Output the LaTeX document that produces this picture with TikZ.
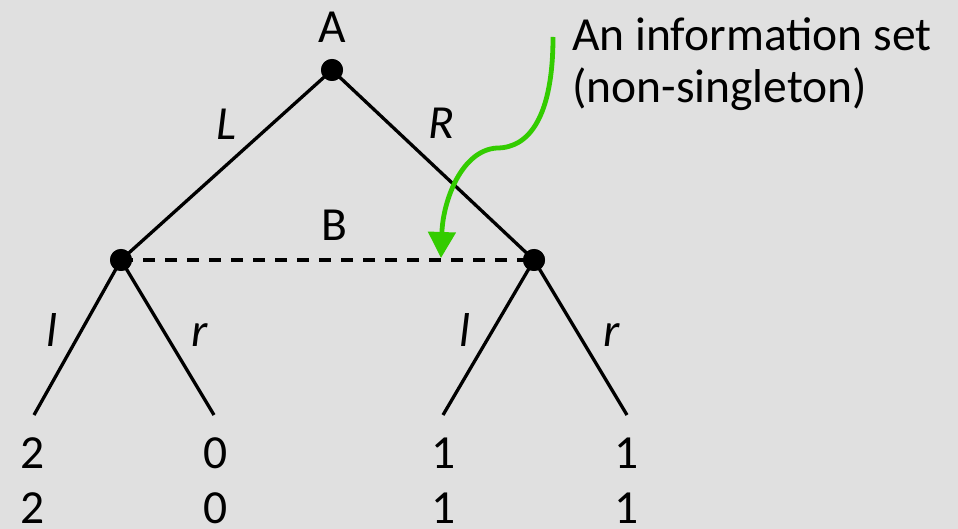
\documentclass[tikz,border=0pt]{standalone}
\usepackage{fontspec}
\setmainfont{Carlito}
\usetikzlibrary{arrows.meta}
\definecolor{bg}{HTML}{E0E0E0}
\definecolor{grn}{HTML}{33CC00}
\begin{document}
\begin{tikzpicture}[x=1pt,y=-1pt,
  dotnode/.style={circle,fill=black,inner sep=0pt,minimum size=22pt},
  edge/.style={line width=3.3pt},
  lbl/.style={font=\fontsize{47.5}{56}\selectfont,anchor=base,inner sep=0pt},
  ilbl/.style={lbl,font=\fontsize{47.5}{56}\selectfont\itshape}]
\fill[bg] (0,0) rectangle (958,529);
\useasboundingbox (0,0) rectangle (958,529);
\node[dotnode] (a) at (332,70) {};
\node[dotnode] (b1) at (121,260) {};
\node[dotnode] (b2) at (534,260) {};
\coordinate (l1) at (34,415);
\coordinate (l2) at (214,415);
\coordinate (l3) at (443,415);
\coordinate (l4) at (627,415);
\draw[edge] (a.center) -- (b1.center);
\draw[edge] (a.center) -- (b2.center);
\draw[edge] (b1.center) -- (l1);
\draw[edge] (b1.center) -- (l2);
\draw[edge] (b2.center) -- (l3);
\draw[edge] (b2.center) -- (l4);
\draw[line width=3.8pt,dash pattern=on 12pt off 10pt] (b1.center) -- (b2.center);
\node[dotnode] at (a) {};
\node[dotnode] at (b1) {};
\node[dotnode] at (b2) {};
\node[lbl] (ta) at (332,43) {A};
\node[ilbl] (tL) at (226,140) {L};
\node[ilbl] (tR) at (441,139) {R};
\node[lbl] (tB) at (334,241) {B};
\node[ilbl] (tl1) at (52,346) {l};
\node[ilbl] (tr1) at (200,346) {r};
\node[ilbl] (tl2) at (465,346) {l};
\node[ilbl] (tr2) at (612,346) {r};
\node[lbl] (p1a) at (33,468) {2};
\node[lbl] (p1b) at (33,523) {2};
\node[lbl] (p2a) at (216,468) {0};
\node[lbl] (p2b) at (216,523) {0};
\node[lbl] (p3a) at (444,468) {1};
\node[lbl] (p3b) at (444,523) {1};
\node[lbl] (p4a) at (627,468) {1};
\node[lbl] (p4b) at (627,523) {1};
\node[lbl,anchor=base west] (t1) at (572,51) {An information set};
\node[lbl,anchor=base west] (t2) at (572,103) {(non-singleton)};
\coordinate (gs) at (553,37);
\coordinate (gm) at (497,148);
\coordinate (ge) at (441,258);
\draw[grn,line width=4.8pt,-{Triangle[length=26pt,width=27pt]}] (gs) .. controls (553,115) and (530,148) .. (gm) .. controls (462,150) and (443,200) .. (ge);
\end{tikzpicture}
\end{document}
